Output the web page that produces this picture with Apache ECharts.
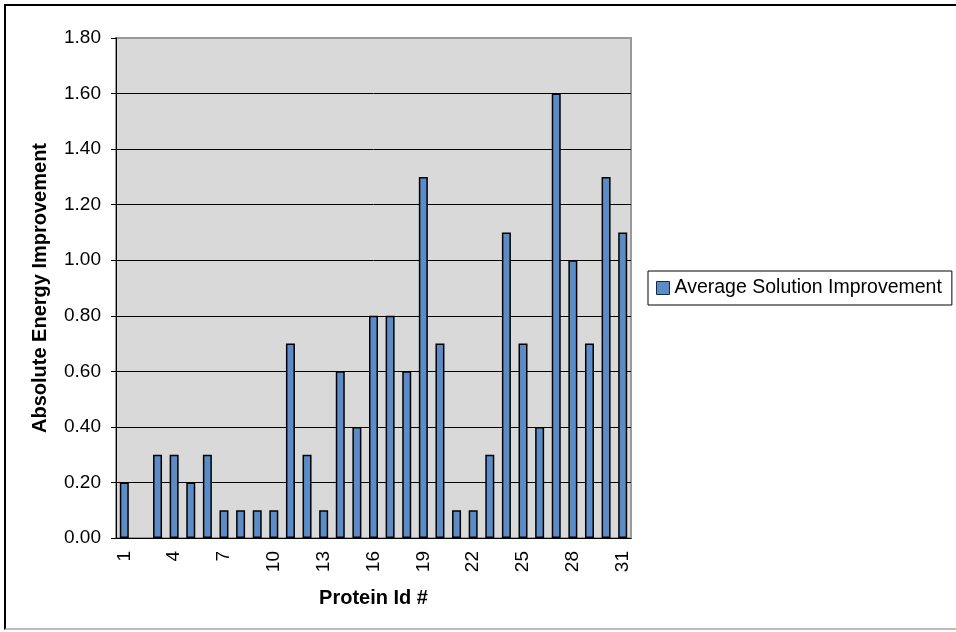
<!DOCTYPE html>
<html>
<head>
<meta charset="utf-8">
<script src="https://cdn.jsdelivr.net/npm/echarts@6/dist/echarts.min.js"></script>
<style>
html, body { margin: 0; padding: 0; background: #fff; }
#main { width: 956px; height: 632px; }
#frame { position: absolute; left: 4px; top: 4px; width: 960px; height: 626px;
  border-left: 2px solid #000; border-top: 2px solid #000; border-bottom: 2px solid #bbb; box-sizing: border-box; pointer-events: none; }
</style>
</head>
<body>
<div id="main"></div>
<div id="frame"></div>
<script>
var proteinIds = [];
for (var i = 1; i <= 31; i++) proteinIds.push(String(i));

var avgImprovement = [0.2, 0, 0.3, 0.3, 0.2, 0.3, 0.1, 0.1, 0.1, 0.1,
    0.7, 0.3, 0.1, 0.6, 0.4, 0.8, 0.8, 0.6, 1.3, 0.7,
    0.1, 0.1, 0.3, 1.1, 0.7, 0.4, 1.6, 1.0, 0.7, 1.3, 1.1];

var myChart = echarts.init(document.getElementById('main'));

// zero values draw no bar at all in the original
var barData = avgImprovement.map(function (v) { return v === 0 ? '-' : v; });

var option = {
    animation: false,
    backgroundColor: '#fff',
    legend: {
        left: 648,
        top: 271,
        padding: [7, 10, 7, 8],
        borderColor: '#000',
        borderWidth: 1,
        itemWidth: 13,
        itemHeight: 13,
        itemGap: 4,
        textStyle: { fontFamily: 'Liberation Sans', fontSize: 19.5, color: '#000' },
        data: [{ name: 'Average Solution Improvement', icon: 'rect',
            itemStyle: { color: '#5b8cc8', borderColor: '#1a2a40', borderWidth: 1 } }]
    },
    grid: {
        left: 116,
        top: 38,
        width: 515,
        height: 500,
        show: true,
        backgroundColor: '#d9d9d9',
        borderColor: '#999',
        borderWidth: 2
    },
    xAxis: {
        type: 'category',
        data: proteinIds,
        name: 'Protein Id #',
        nameLocation: 'middle',
        nameGap: 50,
        nameTextStyle: { fontFamily: 'Liberation Sans', fontSize: 20, fontWeight: 'bold', color: '#000' },
        axisLine: { lineStyle: { color: '#000' } },
        axisTick: { alignWithLabel: false, interval: 0, length: 5, lineStyle: { color: '#000' } },
        axisLabel: { interval: 2, rotate: 90, fontFamily: 'Liberation Sans', fontSize: 19, color: '#000', margin: 13 },
        splitLine: { show: false }
    },
    yAxis: {
        type: 'value',
        min: 0,
        max: 1.8,
        interval: 0.2,
        name: 'Absolute Energy Improvement',
        nameLocation: 'middle',
        nameGap: 66,
        nameTextStyle: { fontFamily: 'Liberation Sans', fontSize: 20, fontWeight: 'bold', color: '#000' },
        axisLine: { show: true, lineStyle: { color: '#000' } },
        axisTick: { show: true, length: 5, lineStyle: { color: '#000' } },
        axisLabel: { fontFamily: 'Liberation Sans', fontSize: 19, color: '#000', margin: 15,
            formatter: function (v) { return v.toFixed(2); } },
        splitLine: { showMaxLine: false, lineStyle: { color: '#000', width: 1 } }
    },
    series: [{
        name: 'Average Solution Improvement',
        type: 'bar',
        data: barData,
        barWidth: 9,
        itemStyle: { color: '#5b8cc8', borderColor: '#000', borderWidth: 1.5 }
    }]
};

myChart.setOption(option);
</script>
</body>
</html>
